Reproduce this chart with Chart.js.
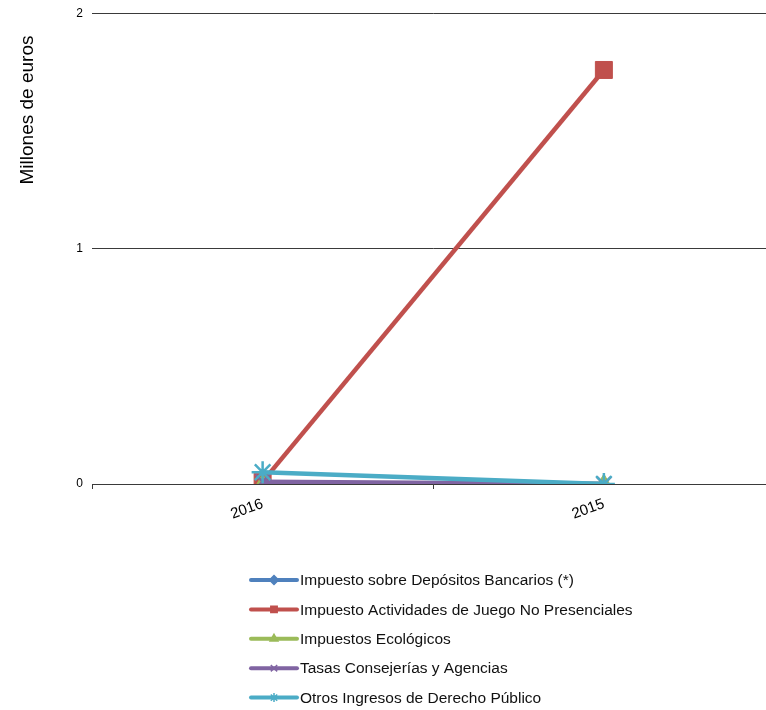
<!DOCTYPE html>
<html><head><meta charset="utf-8">
<script src="https://cdn.jsdelivr.net/npm/chart.js@4/dist/chart.umd.min.js"></script>
<style>
html,body{margin:0;padding:0;background:#fff;overflow:hidden;width:766px;height:710px}
#wrap{position:absolute;left:0;top:0;width:788px;height:710px}
</style></head>
<body><div id="wrap"><canvas id="c" width="788" height="710" style="width:788px;height:710px"></canvas></div>
<script>
const categories = ['2016', '2015'];
const seriesNames = [
  'Impuesto sobre Depósitos Bancarios (*)',
  'Impuesto Actividades de Juego No Presenciales',
  'Impuestos Ecológicos',
  'Tasas Consejerías y Agencias',
  'Otros Ingresos de Derecho Público'
];
const depositosBancarios = [0, 0];
const juegoNoPresenciales = [0.01, 1.76];
const impuestosEcologicos = [0, 0];
const tasasConsejerias = [0.01, 0];
const otrosIngresos = [0.05, 0];
const yTicks = [0, 1, 2];
const yTitle = 'Millones de euros';

const FONT = '"Liberation Sans", Arial, sans-serif';
const colors = ['#4F81BD', '#C0504D', '#9BBB59', '#8064A2', '#4BACC6'];
const styles = ['rectRot', 'rect', 'triangle', 'crossRot', 'star'];
const radii = [5, 12, 10, 10, 11];
const values = [depositosBancarios, juegoNoPresenciales, impuestosEcologicos, tasasConsejerias, otrosIngresos];

const datasets = values.map((v, i) => ({
  label: seriesNames[i],
  data: v,
  borderColor: colors[i],
  backgroundColor: colors[i],
  pointBackgroundColor: colors[i],
  pointBorderColor: colors[i],
  pointStyle: styles[i],
  pointRadius: radii[i],
  pointBorderWidth: (styles[i] === 'crossRot' || styles[i] === 'star') ? 2.5 : 1,
  borderWidth: 4.5,
  tension: 0,
  order: 5 - i
}));

const customDraw = {
  id: 'customDraw',
  afterDraw(chart) {
    const ctx = chart.ctx;
    ctx.save();
    ctx.font = '19px ' + FONT;
    ctx.fillStyle = '#000';
    ctx.translate(28, 110);
    ctx.rotate(-Math.PI / 2);
    ctx.textAlign = 'center';
    ctx.textBaseline = 'middle';
    ctx.fillText(yTitle, 0, 0);
    ctx.restore();
    const x0 = 251, x1 = 297, rowY0 = 580, rowH = 29.4;
    chart.data.datasets.forEach((ds, i) => {
      const y = rowY0 + i * rowH;
      ctx.save();
      ctx.strokeStyle = ds.borderColor;
      ctx.lineWidth = 4;
      ctx.lineCap = 'round';
      ctx.beginPath();
      ctx.moveTo(x0, y);
      ctx.lineTo(x1, y);
      ctx.stroke();
      ctx.lineCap = 'butt';
      ctx.fillStyle = ds.borderColor;
      ctx.strokeStyle = ds.borderColor;
      ctx.lineWidth = 1.5;
      Chart.helpers.drawPoint(ctx, {pointStyle: ds.pointStyle, radius: 4.5, rotation: 0, borderWidth: 1.5}, (x0 + x1) / 2, y);
      ctx.fillStyle = '#111';
      ctx.font = '15.5px ' + FONT;
      ctx.textAlign = 'left';
      ctx.textBaseline = 'middle';
      ctx.fillText(ds.label, x1 + 3, y + 1);
      ctx.restore();
    });
  }
};

new Chart(document.getElementById('c'), {
  type: 'line',
  data: { labels: categories, datasets },
  options: {
    responsive: false,
    animation: false,
    devicePixelRatio: 1,
    layout: { padding: { left: 0, right: 6, top: 12, bottom: 0 } },
    plugins: { legend: { display: false }, tooltip: { enabled: false } },
    scales: {
      x: {
        type: 'category',
        offset: true,
        grid: { offset: true, drawOnChartArea: false, drawTicks: true, tickLength: 5, color: '#3a3a3a' },
        border: { display: true, color: '#3a3a3a', width: 1 },
        ticks: {
          color: '#000',
          font: { family: FONT, size: 15 },
          minRotation: 20, maxRotation: 20, padding: 6
        },
        afterFit(scale) { scale.height = 226; scale.paddingLeft = 0; scale.paddingRight = 0; }
      },
      y: {
        min: 0, max: 2,
        afterBuildTicks(scale) { scale.ticks = yTicks.map(v => ({ value: v })); },
        grid: { drawTicks: false, color: '#3a3a3a' },
        border: { display: false },
        ticks: {
          color: '#000',
          font: { family: FONT, size: 12 },
          padding: 9
        },
        afterFit(scale) { scale.width = 92; scale.paddingTop = 0; scale.paddingBottom = 0; }
      }
    }
  },
  plugins: [customDraw]
});
</script>
</body></html>
